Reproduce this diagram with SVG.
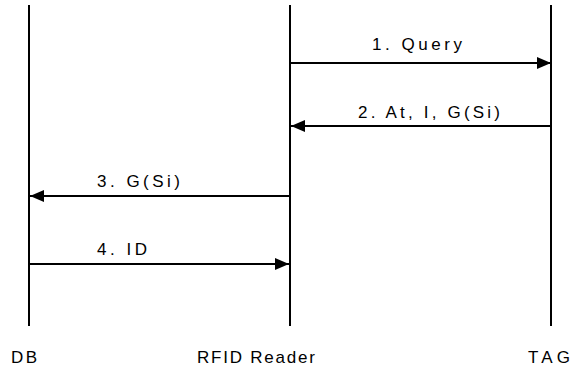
<svg xmlns="http://www.w3.org/2000/svg" width="586" height="372" viewBox="0 0 586 372">
  <style>
    .life { stroke: #000; stroke-width: 2; fill: none; }
    .msg { stroke: #000; stroke-width: 2; fill: none; marker-end: url(#head); }
    text { font-family: "Liberation Sans", Arial, sans-serif; font-size: 17px; fill: #000; }
  </style>
  <defs>
    <marker id="head" viewBox="0 0 14 12" refX="14" refY="6" markerWidth="14" markerHeight="12" markerUnits="userSpaceOnUse" orient="auto">
      <path d="M0,0 L14,6 L0,12 Z" fill="#000"/>
    </marker>
  </defs>

  <g id="db">
    <line class="life" x1="29" y1="5" x2="29" y2="326"/>
    <text x="11" y="363" textLength="26" lengthAdjust="spacing">DB</text>
  </g>
  <g id="reader">
    <line class="life" x1="290" y1="5" x2="290" y2="326"/>
    <text x="197" y="363" textLength="118" lengthAdjust="spacing">RFID Reader</text>
  </g>
  <g id="tag">
    <line class="life" x1="551" y1="5" x2="551" y2="326"/>
    <text x="528" y="363" textLength="42" lengthAdjust="spacing">TAG</text>
  </g>

  <g id="connectors">
    <line class="msg" x1="290" y1="63" x2="551" y2="63"/>
    <text x="372" y="50" textLength="90" lengthAdjust="spacing">1. Query</text>
    <line class="msg" x1="551" y1="126" x2="291" y2="126"/>
    <text x="358" y="118" textLength="142" lengthAdjust="spacing">2. At, I, G(Si)</text>
    <line class="msg" x1="290" y1="196" x2="30" y2="196"/>
    <text x="97" y="187" textLength="83" lengthAdjust="spacing">3. G(Si)</text>
    <line class="msg" x1="29" y1="264" x2="289" y2="264"/>
    <text x="97" y="255" textLength="50" lengthAdjust="spacing">4. ID</text>
  </g>
</svg>
